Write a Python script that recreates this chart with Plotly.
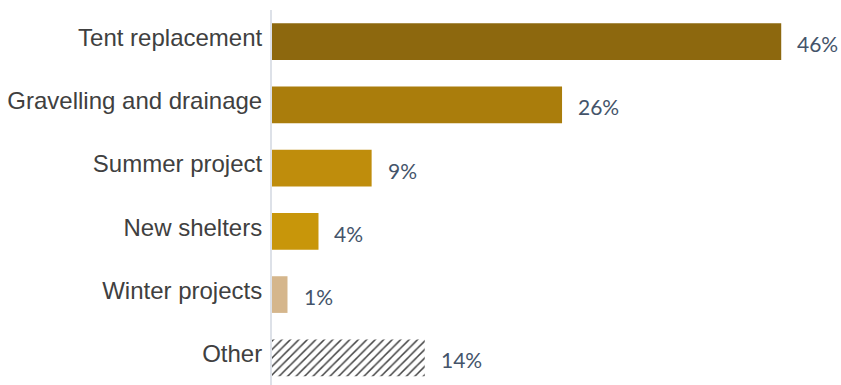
import plotly.graph_objects as go

categories = ["Tent replacement", "Gravelling and drainage", "Summer project",
              "New shelters", "Winter projects", "Other"]
values = [46, 26.2, 9.0, 4.2, 1.4, 13.8]
labels = ["46%", "26%", "9%", "4%", "1%", "14%"]
colors = ["#8d680e", "#aa7d0c", "#bf8d0c", "#c8960a", "#d5b68c", "#ffffff"]
pattern_shapes = ["", "", "", "", "", "/"]

fig = go.Figure()
fig.add_trace(go.Bar(
    y=categories, x=values, orientation="h",
    marker=dict(color=colors, line=dict(width=0),
                pattern=dict(shape=pattern_shapes, fgcolor="#3a2d08", fgopacity=1,
                             bgcolor="#fbf6e8", size=6, solidity=0.25)),
    width=0.58, hoverinfo="skip",
))
for c, v, t in zip(categories, values, labels):
    fig.add_annotation(x=v, y=c, text=t, showarrow=False, xanchor="left",
                       xshift=14, yshift=-2,
                       font=dict(family="Lato", size=21, color="#44546a"))

fig.update_layout(
    width=841, height=385,
    margin=dict(l=272, r=0, t=10, b=0),
    paper_bgcolor="white", plot_bgcolor="white",
    showlegend=False, bargap=0.42,
)
fig.update_xaxes(range=[0, 51.4], visible=False, showgrid=False, zeroline=False)
fig.update_yaxes(
    range=[5.43, -0.5], showgrid=False, zeroline=False,
    showline=True, linecolor="#dde1e8", linewidth=2, ticks="",
    tickfont=dict(family="Liberation Sans, Arial", size=24, color="#404040"),
    ticklabelstandoff=3, ticklabelshift=4,
)
fig.write_html("out.html")
